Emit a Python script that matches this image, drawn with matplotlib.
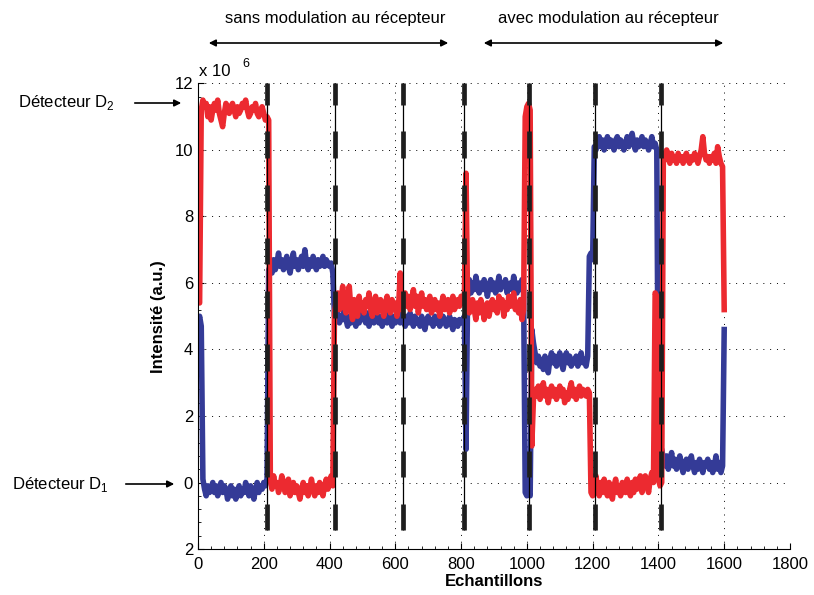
import numpy as np
import matplotlib
matplotlib.use('Agg')
import matplotlib.pyplot as plt

plt.rcParams['font.family'] = ['Liberation Sans', 'DejaVu Sans']
plt.rcParams['mathtext.fontset'] = 'custom'
plt.rcParams['mathtext.rm'] = 'Liberation Sans'

# echantillons : un point tous les 5 echantillons (0 .. 1600)
echantillons = np.arange(0, 1605, 5)

# detecteur D2 (rouge), en unites de 1e6
d2 = [5.5, 5.4, 11.2, 11.5, 11.3, 11.4, 11.0, 11.3, 10.9, 11.2,
      11.4, 11.2, 11.5, 11.1, 10.9, 10.7, 11.1, 11.4, 11.3, 11.1,
      11.3, 11.4, 11.2, 11.0, 11.3, 11.1, 11.2, 11.4, 11.3, 11.5,
      11.2, 11.0, 11.1, 11.3, 11.2, 11.4, 11.1, 11.0, 11.2, 11.3,
      11.1, 10.9, 11.0, 10.9, 0.1, -0.2, 0.2, -0.1, 0.0, -0.3,
      -0.1, 0.2, 0.0, -0.3, -0.2, 0.1, -0.4, -0.2, 0.0, -0.3,
      -0.1, -0.3, -0.5, -0.2, 0.0, -0.3, -0.1, -0.4, -0.2, 0.1,
      -0.2, -0.4, -0.1, -0.3, 0.0, -0.2, -0.4, -0.1, 0.1, -0.2,
      0.0, 0.2, -0.1, 5.1, 5.4, 5.7, 5.2, 5.5, 5.9, 5.3,
      5.1, 5.6, 5.9, 5.2, 4.9, 5.5, 5.3, 5.0, 5.6, 5.2,
      5.4, 5.1, 5.5, 5.3, 5.7, 5.2, 5.0, 5.4, 5.6, 5.1,
      5.3, 5.5, 5.2, 5.0, 5.4, 5.6, 5.3, 5.1, 5.5, 5.2,
      5.4, 5.0, 5.3, 6.3, 5.2, 5.5, 5.7, 5.3, 5.6, 5.2,
      5.5, 5.8, 5.3, 5.6, 5.1, 5.4, 5.7, 5.3, 5.5, 5.2,
      5.4, 5.6, 5.1, 5.3, 5.5, 5.2, 5.4, 5.0, 5.3, 5.6,
      5.2, 5.4, 5.5, 5.1, 5.3, 5.6, 5.2, 5.4, 5.5, 5.3,
      5.6, 5.4, 5.5, 9.3, 5.2, 5.1, 5.3, 5.5, 5.2, 4.9,
      5.4, 5.1, 5.5, 5.3, 4.9, 5.2, 5.4, 5.0, 5.3, 5.5,
      5.2, 5.4, 5.1, 5.6, 5.3, 5.5, 5.0, 5.4, 5.2, 5.6,
      5.3, 5.5, 5.7, 5.2, 5.4, 5.1, 5.5, 4.9, 5.2, 11.0,
      11.3, 11.4, 11.2, 1.1, 2.5, 2.8, 2.6, 2.9, 2.5, 2.7,
      3.0, 2.6, 2.8, 2.4, 2.7, 2.9, 2.6, 2.8, 2.5, 2.7,
      2.9, 2.6, 2.8, 2.4, 2.7, 2.5, 2.8, 3.0, 2.6, 2.8,
      2.5, 2.7, 2.9, 2.6, 2.8, 2.7, 2.6, 2.8, 2.7, -0.3,
      -0.4, -0.1, 0.2, -0.2, -0.4, 0.0, -0.3, 0.1, -0.2, -0.4,
      0.0, -0.2, -0.5, -0.1, 0.1, -0.3, -0.1, -0.4, 0.0, -0.2,
      -0.3, 0.1, -0.2, -0.4, 0.0, -0.3, 0.1, -0.2, -0.1, 0.2,
      -0.3, 0.0, 0.2, -0.1, -0.3, 0.1, 0.3, 0.0, 5.7, 5.6,
      0.1, -0.1, 0.0, 9.9, 9.7, 10.0, 9.8, 9.6, 9.9, 9.7,
      9.8, 9.6, 9.9, 9.7, 9.8, 9.6, 9.8, 9.9, 9.7, 9.6,
      9.8, 9.7, 9.9, 9.8, 9.6, 9.8, 10.0, 10.4, 9.9, 9.7,
      9.8, 9.6, 9.8, 9.7, 9.9, 9.6, 10.1, 9.8, 9.6, 9.5,
      5.2]

# detecteur D1 (bleu)
d1 = [4.8, 5.0, 4.7, 0.1, -0.2, -0.4, -0.1, -0.3, -0.2, 0.0,
      -0.3, -0.1, -0.4, -0.2, 0.0, -0.3, -0.1, -0.2, -0.5, -0.3,
      -0.1, -0.4, -0.2, -0.5, -0.3, -0.1, -0.4, -0.2, -0.3, 0.0,
      -0.2, -0.4, -0.1, -0.3, -0.5, -0.2, 0.0, -0.3, -0.1, -0.2,
      0.0, -0.1, 0.1, 6.4, 6.5, 6.3, 6.7, 6.4, 6.6, 6.9,
      6.5, 6.7, 6.4, 6.6, 6.8, 6.5, 6.3, 6.6, 6.9, 6.5,
      6.7, 6.4, 6.6, 6.8, 6.5, 7.0, 6.6, 6.4, 6.7, 6.5,
      6.8, 6.6, 6.4, 6.7, 6.5, 6.6, 6.8, 6.5, 6.7, 6.6,
      6.5, 6.6, 6.3, 5.0, 4.9, 5.1, 4.8, 5.0, 4.9, 5.2,
      4.9, 4.7, 5.0, 4.8, 5.1, 4.9, 4.7, 5.0, 4.8, 5.1,
      4.9, 5.0, 4.8, 5.1, 4.7, 4.9, 5.0, 4.8, 5.1, 4.9,
      4.8, 5.0, 4.7, 4.9, 5.1, 4.8, 5.0, 4.9, 4.7, 5.0,
      4.8, 5.0, 4.9, 4.8, 5.1, 4.9, 4.7, 5.0, 4.8, 5.1,
      4.9, 4.7, 5.0, 4.8, 4.9, 4.7, 5.0, 4.8, 4.6, 4.9,
      5.0, 4.8, 4.9, 4.7, 5.0, 4.8, 4.9, 4.7, 4.8, 5.0,
      4.9, 4.7, 4.8, 5.0, 4.8, 4.6, 4.9, 4.8, 4.7, 4.9,
      4.8, 4.9, 5.0, 1.0, 5.9, 6.1, 5.7, 6.0, 5.8, 6.2,
      5.9, 5.7, 6.0, 5.8, 6.1, 5.9, 5.6, 5.9, 6.1, 5.8,
      6.0, 5.7, 5.9, 6.2, 5.8, 6.0, 5.9, 6.1, 5.7, 5.9,
      6.0, 5.8, 6.2, 5.9, 5.7, 6.0, 5.8, 6.1, 5.9, -0.3,
      -0.4, -0.3, -0.4, 4.6, 4.2, 3.9, 3.6, 3.8, 3.5, 3.7,
      3.4, 3.8, 3.6, 3.3, 3.7, 3.9, 3.6, 3.8, 3.5, 3.7,
      3.9, 3.6, 3.4, 3.7, 3.9, 3.6, 3.8, 3.5, 3.7, 3.6,
      3.8, 3.5, 3.7, 3.9, 3.6, 3.7, 3.5, 3.8, 6.8, 6.9,
      6.7, 10.1, 10.0, 10.2, 10.4, 10.1, 10.3, 10.0, 10.2, 10.4,
      10.1, 10.3, 10.2, 10.0, 10.3, 10.4, 10.1, 10.3, 10.2, 10.0,
      10.2, 10.4, 10.1, 10.3, 10.5, 10.2, 10.0, 10.3, 10.1, 10.2,
      10.4, 10.1, 10.3, 10.2, 10.0, 10.2, 10.4, 10.1, 10.2, 10.0,
      1.0, 0.9, 1.0, 0.7, 0.5, 0.8, 0.4, 0.6, 0.9, 0.5,
      0.7, 0.4, 0.6, 0.8, 0.5, 0.3, 0.6, 0.7, 0.4, 0.6,
      0.8, 0.5, 0.3, 0.6, 0.4, 0.7, 0.5, 0.3, 0.6, 0.5,
      0.7, 0.4, 0.6, 0.3, 0.5, 0.8, 0.4, 0.6, 0.3, 0.5,
      4.6]

# positions des changements de configuration
bornes = [209, 418, 623, 809, 1005, 1208, 1408]

yticks = [-2, 0, 2, 4, 6, 8, 10, 12]
ytick_labels = ['2', '0', '2', '4', '6', '8', '10', '12']
xticks = [0, 200, 400, 600, 800, 1000, 1200, 1400, 1600, 1800]

rouge = '#ec2a30'
bleu = '#343b97'

fig = plt.figure(figsize=(8.14, 5.95), dpi=100)
ax = fig.add_axes([0.2432, 0.0773, 0.7273, 0.7824])

ax.plot(echantillons, d1, color=bleu, lw=4.0, solid_joinstyle='round')
ax.plot(echantillons, d2, color=rouge, lw=4.0, solid_joinstyle='round')

# lignes verticales : trait fin + gros tirets
tops = 12.16 - 1.6 * np.arange(9)
for b in bornes:
    ax.vlines(b, tops[-1] - 0.8, 12, color='k', lw=0.9, zorder=4)
    ax.vlines([b] * len(tops), tops - 0.8, np.minimum(tops, 12),
              color='#1e1e1e', lw=3.4, zorder=5)

ax.set_xlim(0, 1800)
ax.set_ylim(-2, 12)
ax.set_xticks(xticks)
ax.set_yticks(yticks)
ax.set_yticklabels(ytick_labels)
ax.xaxis.set_minor_locator(matplotlib.ticker.MultipleLocator(40))
ax.yaxis.set_minor_locator(matplotlib.ticker.MultipleLocator(0.4))
ax.tick_params(which='both', direction='in', labelsize=12)
ax.tick_params(which='major', length=4)
ax.tick_params(which='minor', length=2)
ax.tick_params(axis='x', pad=6)
ax.spines['top'].set_visible(False)
ax.spines['right'].set_visible(False)
ax.grid(True, which='major', color='k', linestyle=(0, (1, 6)), lw=0.7)

ax.set_xlabel('Echantillons', fontsize=12, fontweight='bold', labelpad=1)
ax.set_ylabel('Intensité (a.u.)', fontsize=12, fontweight='bold', labelpad=6)

# facteur d'echelle
fig.text(199 / 814, 1 - 72 / 595, 'x 10', fontsize=12, ha='left', va='center')
fig.text(242 / 814, 1 - 64 / 595, '6', fontsize=9, ha='left', va='center')

# fleches des detecteurs
fleche = dict(arrowstyle='-|>', color='k', lw=1.2, mutation_scale=10)
fig.text(18 / 814, 1 - 102 / 595, r'Détecteur D$_\mathregular{2}$', fontsize=12,
         ha='left', va='center')
ax.annotate('', xy=(184 / 814, 1 - 103 / 595), xytext=(132 / 814, 1 - 103 / 595),
            xycoords='figure fraction', textcoords='figure fraction', arrowprops=fleche)
fig.text(12 / 814, 1 - 484 / 595, r'Détecteur D$_\mathregular{1}$', fontsize=12,
         ha='left', va='center')
ax.annotate('', xy=(177 / 814, 1 - 484 / 595), xytext=(123 / 814, 1 - 484 / 595),
            xycoords='figure fraction', textcoords='figure fraction', arrowprops=fleche)

# zones
double = dict(arrowstyle='<|-|>', color='k', lw=1.2, mutation_scale=10)
fig.text(335 / 814, 1 - 19 / 595, 'sans modulation au récepteur', fontsize=12,
         ha='center', va='center')
ax.annotate('', xy=(451 / 814, 1 - 43 / 595), xytext=(206 / 814, 1 - 43 / 595),
            xycoords='figure fraction', textcoords='figure fraction', arrowprops=double)
fig.text(608 / 814, 1 - 19 / 595, 'avec modulation au récepteur', fontsize=12,
         ha='center', va='center')
ax.annotate('', xy=(726 / 814, 1 - 43 / 595), xytext=(481 / 814, 1 - 43 / 595),
            xycoords='figure fraction', textcoords='figure fraction', arrowprops=double)

fig.savefig('out.png', dpi=100)
